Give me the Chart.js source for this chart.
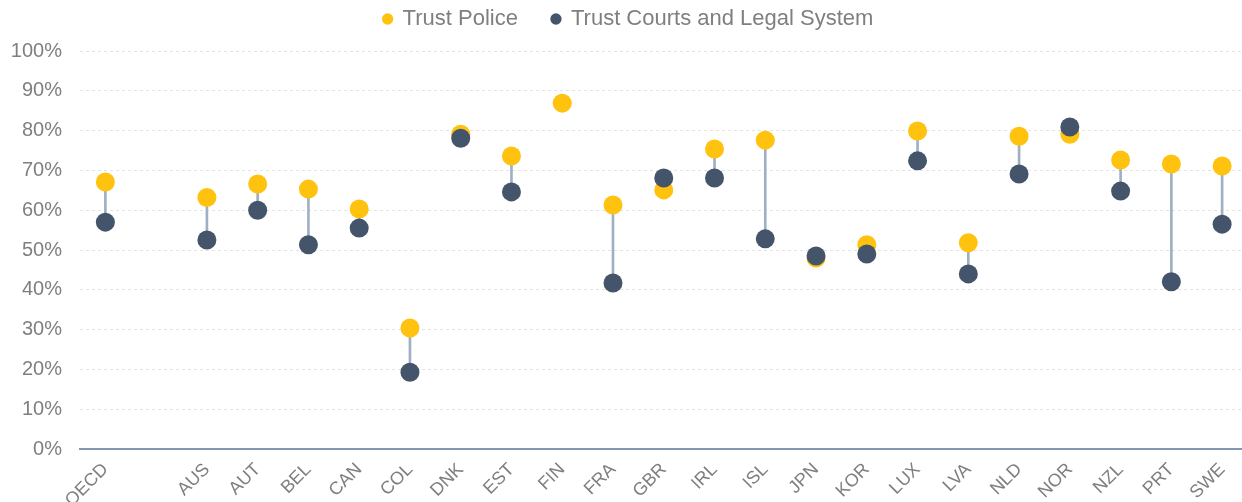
<!DOCTYPE html>
<html>
<head>
<meta charset="utf-8">
<script src="https://cdn.jsdelivr.net/npm/chart.js@4.4.1/dist/chart.umd.min.js"></script>
<style>
    html, body { margin: 0; padding: 0; background: #fff; overflow: hidden; }
    #wrap { width: 1257px; height: 502px; }
</style>
</head>
<body>
<div id="wrap"><canvas id="chart"></canvas></div>
<script>
// categories ('' is the empty slot after OECD)
const countries = ['OECD', '', 'AUS', 'AUT', 'BEL', 'CAN', 'COL', 'DNK', 'EST', 'FIN', 'FRA',
    'GBR', 'IRL', 'ISL', 'JPN', 'KOR', 'LUX', 'LVA', 'NLD', 'NOR', 'NZL', 'PRT', 'SWE']
const trustPolice = [67.1, null, 63.2, 66.6, 65.3, 60.3, 30.4, 79.1, 73.6, 86.9, 61.3,
    65.1, 75.4, 77.6, 48.0, 51.3, 79.9, 51.8, 78.6, 79.1, 72.6, 71.6, 71.1]
const trustCourts = [57.0, null, 52.5, 60.0, 51.3, 55.5, 19.3, 78.1, 64.6, null, 41.7,
    68.1, 68.1, 52.8, 48.5, 49.0, 72.4, 44.0, 69.1, 80.9, 64.8, 42.0, 56.5]
const yTicks = [0, 10, 20, 30, 40, 50, 60, 70, 80, 90, 100]

const gray = '#7f7f7f'
const connectors = countries.map((c, i) =>
    trustPolice[i] != null && trustCourts[i] != null ? [trustCourts[i], trustPolice[i]] : null)

// keep the legend box at a fixed height so the plot starts where the original does
const legendHeight = {
    id: 'legendHeight',
    afterInit(chart) {
        const fit = chart.legend.fit
        chart.legend.fit = function () {
            fit.call(this)
            this.height = 77
        }
    }
}

new Chart(document.getElementById('chart'), {
    data: {
        labels: countries,
        datasets: [
            {
                type: 'line',
                label: 'Trust Police',
                data: trustPolice,
                showLine: false,
                backgroundColor: '#FFC20E',
                borderColor: '#FFC20E',
                pointRadius: 9.5,
                pointBorderWidth: 0,
                order: 2
            },
            {
                type: 'line',
                label: 'Trust Courts and Legal System',
                data: trustCourts,
                showLine: false,
                backgroundColor: '#44546A',
                borderColor: '#44546A',
                pointRadius: 9.5,
                pointBorderWidth: 0,
                order: 1
            },
            {
                type: 'bar',
                label: 'gap',
                data: connectors,
                backgroundColor: '#9fb0c4',
                barThickness: 2,
                order: 3
            }
        ]
    },
    options: {
        responsive: true,
        maintainAspectRatio: false,
        animation: false,
        layout: { padding: { top: -26, left: 0, right: 0, bottom: 0 } },
        scales: {
            x: {
                offset: true,
                grid: { display: false },
                border: { display: true, color: '#8497b0', width: 2 },
                ticks: {
                    color: gray,
                    font: { family: 'Liberation Sans, Arial', size: 18 },
                    minRotation: 45,
                    maxRotation: 45,
                    autoSkip: false,
                    padding: 2
                },
                afterFit(axis) { axis.height = 53 }
            },
            y: {
                min: 0,
                max: 100,
                afterBuildTicks(axis) { axis.ticks = yTicks.map(v => ({ value: v })) },
                grid: { color: '#e3e3e3', drawTicks: false },
                border: { display: false, dash: [3, 3] },
                ticks: {
                    color: gray,
                    font: { family: 'Liberation Sans, Arial', size: 20 },
                    padding: 18,
                    callback: v => v + '%'
                },
                afterFit(axis) { axis.width = 80 }
            }
        },
        plugins: {
            legend: {
                position: 'top',
                labels: {
                    filter: item => item.text !== 'gap',
                    sort: (a, b) => a.datasetIndex - b.datasetIndex,
                    usePointStyle: true,
                    pointStyle: 'circle',
                    boxHeight: 8,
                    boxWidth: 8,
                    padding: 34,
                    color: gray,
                    font: { family: 'Liberation Sans, Arial', size: 22 }
                }
            },
            tooltip: { enabled: false }
        }
    },
    plugins: [legendHeight]
})
</script>
</body>
</html>
